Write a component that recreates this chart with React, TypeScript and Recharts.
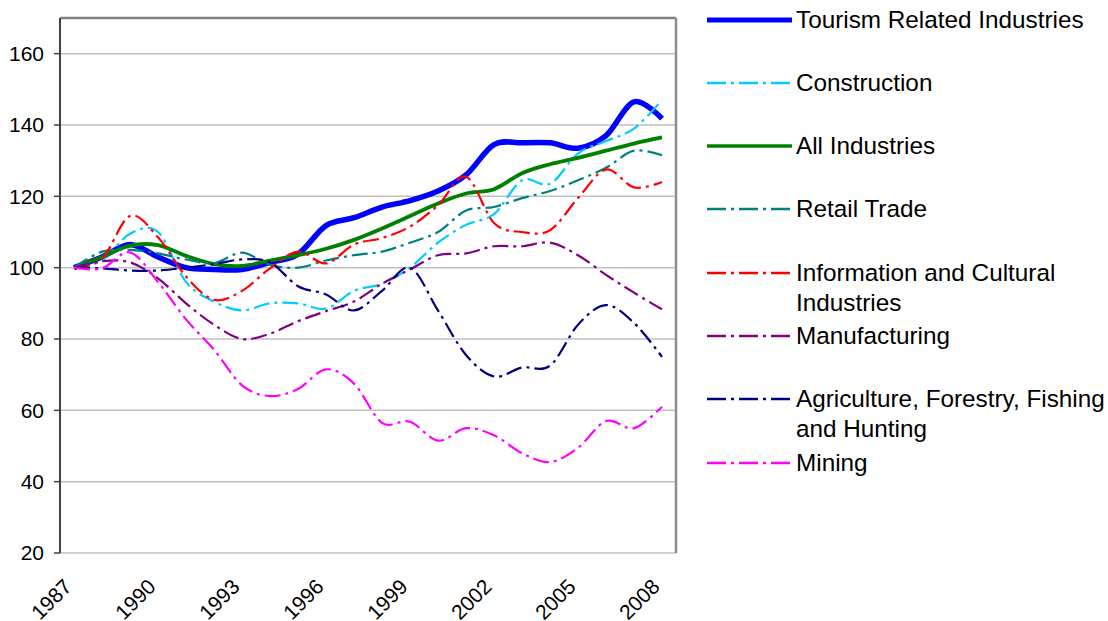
import React from 'react';
import { LineChart, Line, XAxis, YAxis, CartesianGrid, ReferenceLine } from 'recharts';

const years = [1987, 1988, 1989, 1990, 1991, 1992, 1993, 1994, 1995, 1996, 1997, 1998, 1999, 2000, 2001, 2002, 2003, 2004, 2005, 2006, 2007, 2008];
const labelYears = [1987, 1990, 1993, 1996, 1999, 2002, 2005, 2008];
const yTicks = [20, 40, 60, 80, 100, 120, 140, 160];

const tourism = [100, 103, 106.5, 103, 100, 99.5, 99.5, 101.5, 103.8, 111.8, 114, 117, 118.8, 121.5, 126, 134.5, 135, 135, 133.5, 137, 146.5, 141.8];
const construction = [100, 102, 109.5, 110, 96, 90.5, 88, 90, 90, 88.5, 93.5, 95.5, 100, 107, 112, 115, 124.5, 123.5, 132, 135.5, 139, 147];
const allIndustries = [100, 103, 106.2, 106.3, 103.3, 101, 100.5, 102, 103.5, 105.3, 107.8, 111, 114.5, 118, 120.8, 122, 126.5, 129, 130.8, 132.8, 134.8, 136.5];
const retail = [100, 104.5, 105, 104, 102.3, 101.3, 104.2, 100.8, 100, 102, 103.5, 104.5, 107, 110, 116, 117, 119.5, 121.5, 124.5, 128, 132.8, 131.5];
const info = [100, 102.5, 114.5, 108.5, 97.5, 91, 93.5, 99.8, 104.5, 101.2, 106.5, 108.3, 111.5, 117.5, 125.5, 112.5, 110, 110.5, 119.5, 127.5, 122.5, 124];
const manufacturing = [100, 101.8, 101.5, 97, 90, 84, 80, 81.5, 85, 87.8, 90.5, 95.5, 99.5, 103.5, 104, 106, 106, 107, 103.5, 98, 93, 88.3];
const agriculture = [100, 99.8, 99.2, 99.2, 100, 101, 102.3, 101.5, 94.8, 92.5, 88, 93.5, 100, 88, 75.5, 69.5, 72, 72.5, 84, 89.5, 84.5, 75];
const mining = [100, 99.8, 104.3, 96, 85.5, 77, 67, 64, 66, 71.5, 67.5, 56.5, 56.8, 51.5, 55, 53, 48, 45.5, 49.5, 57, 55, 61];

const DASH = '16 5 3 5';

const series = [
  { key: 'tourism', name: 'Tourism Related Industries', values: tourism, color: '#0000FF', width: 5.5, dash: undefined },
  { key: 'construction', name: 'Construction', values: construction, color: '#00CCFF', width: 2.2, dash: DASH },
  { key: 'allIndustries', name: 'All Industries', values: allIndustries, color: '#008000', width: 3.8, dash: undefined },
  { key: 'retail', name: 'Retail Trade', values: retail, color: '#008080', width: 2.2, dash: DASH },
  { key: 'info', name: 'Information and Cultural\nIndustries', values: info, color: '#FF0000', width: 2.2, dash: DASH },
  { key: 'manufacturing', name: 'Manufacturing', values: manufacturing, color: '#800080', width: 2.2, dash: DASH },
  { key: 'agriculture', name: 'Agriculture, Forestry, Fishing\nand Hunting', values: agriculture, color: '#000080', width: 2.2, dash: DASH },
  { key: 'mining', name: 'Mining', values: mining, color: '#FF00FF', width: 2.2, dash: DASH },
];

const data = years.map((year, i) => {
  const row: any = { year };
  series.forEach((s) => {
    row[s.key] = s.values[i];
  });
  return row;
});

const boundaries = years.map((y) => y - 0.5).concat([years[years.length - 1] + 0.5]);
const xDomain = [boundaries[0], boundaries[boundaries.length - 1]];

// Excel-like smoothing (cardinal spline, tension 0)
function excelCurve(context: any) {
  let x0 = NaN, y0 = NaN, x1 = NaN, y1 = NaN, x2 = NaN, y2 = NaN, pt = 0;
  const k = 1 / 6;
  const seg = (x: number, y: number) => {
    context.bezierCurveTo(x1 + k * (x2 - x0), y1 + k * (y2 - y0), x2 + k * (x1 - x), y2 + k * (y1 - y), x2, y2);
  };
  return {
    areaStart() {},
    areaEnd() {},
    lineStart() {
      x0 = x1 = x2 = y0 = y1 = y2 = NaN;
      pt = 0;
    },
    lineEnd() {
      if (pt === 2) context.lineTo(x2, y2);
      else if (pt === 3) seg(x1, y1);
    },
    point(x: number, y: number) {
      x = +x;
      y = +y;
      if (pt === 0) {
        pt = 1;
        context.moveTo(x, y);
      } else if (pt === 1) {
        pt = 2;
        x1 = x;
        y1 = y;
      } else {
        pt = 3;
        seg(x, y);
      }
      x0 = x1; x1 = x2; x2 = x;
      y0 = y1; y1 = y2; y2 = y;
    },
  };
}

const FONT = '"Liberation Sans", Arial, sans-serif';

const YearTick = (props: any) => {
  const { x, y, payload } = props;
  const px = x - 1;
  const py = y + 35;
  return (
    <text x={px} y={py} transform={`rotate(-45 ${px} ${py})`} textAnchor="end" fontSize={21} fontFamily={FONT} fill="#000">
      {payload.value}
    </text>
  );
};

const LegendBlock = () => (
  <div style={{ position: 'absolute', left: 700, top: 4.5, width: 408, fontFamily: FONT, fontSize: 24.3, color: '#000' }}>
    {series.map((s, i) => (
      <div key={s.key} style={{ position: 'absolute', left: 0, top: i * 63.3, width: 408, height: 63 }}>
        <svg width={96} height={30} style={{ position: 'absolute', left: 0, top: 0 }}>
          <line x1={7} x2={92} y1={15} y2={15} stroke={s.color} strokeWidth={s.dash ? 2.3 : s.width - 0.5} strokeDasharray={s.dash ? '19 5 3 5' : undefined} />
        </svg>
        <div style={{ position: 'absolute', left: 96, top: 0, lineHeight: '30px', whiteSpace: 'pre' }}>{s.name}</div>
      </div>
    ))}
  </div>
);

export default function App() {
  return (
    <div style={{ position: 'absolute', left: 0, top: 0, width: 1108, height: 621, background: '#fff', overflow: 'hidden' }}>
      <LineChart width={1108} height={621} data={data} margin={{ top: 18, right: 432, bottom: 0, left: 0 }}>
        <CartesianGrid vertical={false} stroke="#C0C0C0" strokeWidth={1.5} />
        <XAxis
          xAxisId="main"
          dataKey="year"
          type="number"
          domain={xDomain}
          ticks={boundaries}
          tick={false}
          tickSize={6}
          height={0}
          axisLine={{ stroke: '#404040', strokeWidth: 2 }}
          tickLine={{ stroke: '#404040', strokeWidth: 1.5 }}
          allowDataOverflow
        />
        <XAxis
          xAxisId="labels"
          dataKey="year"
          type="number"
          domain={xDomain}
          ticks={labelYears}
          tick={<YearTick />}
          tickSize={0}
          tickMargin={0}
          height={68}
          axisLine={false}
          tickLine={false}
          interval={0}
          allowDataOverflow
        />
        <YAxis
          domain={[20, 170]}
          ticks={yTicks}
          width={60}
          tickSize={6}
          tickMargin={10}
          interval={0}
          allowDataOverflow
          axisLine={{ stroke: '#404040', strokeWidth: 2 }}
          tickLine={{ stroke: '#404040', strokeWidth: 1.5 }}
          tick={{ fontSize: 21, fontFamily: FONT, fill: '#000' }}
        />
        <ReferenceLine y={170} xAxisId="main" stroke="#808080" strokeWidth={2.5} />
        <ReferenceLine x={xDomain[1]} xAxisId="main" stroke="#8C8C8C" strokeWidth={2.5} />
        {series.map((s) => (
          <Line
            key={s.key}
            xAxisId="main"
            dataKey={s.key}
            name={s.name}
            type={excelCurve as any}
            stroke={s.color}
            strokeWidth={s.width}
            strokeDasharray={s.dash}
            dot={false}
            activeDot={false}
            isAnimationActive={false}
          />
        ))}
      </LineChart>
      <LegendBlock />
    </div>
  );
}
